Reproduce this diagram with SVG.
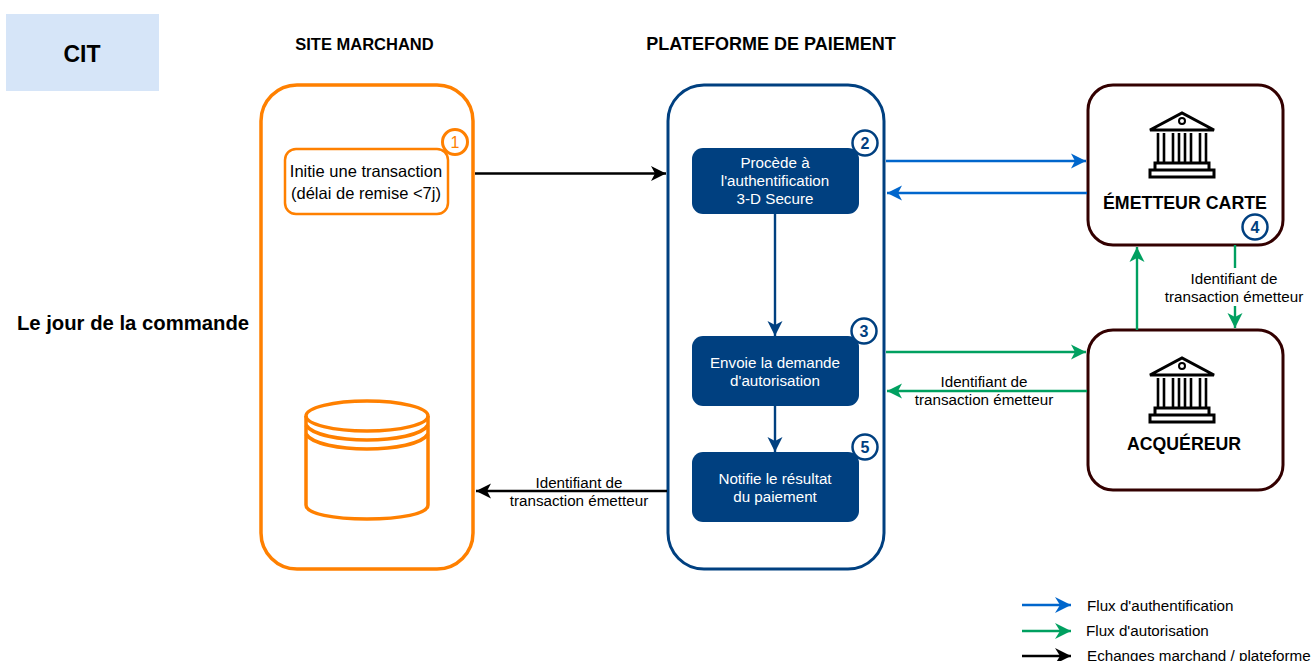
<svg xmlns="http://www.w3.org/2000/svg" xmlns:xlink="http://www.w3.org/1999/xlink" width="1314" height="661" viewBox="0 0 1314 661">
<style>
text{font-family:"Liberation Sans",Arial,sans-serif;font-size:15.200px;fill:#000;text-anchor:middle}
.b{font-weight:bold}
.w{fill:#fff}
.l{text-anchor:start;font-size:15.200px}
.oc{fill:#fff;stroke:#ff8000;stroke-width:3}
.nc{fill:#fff;stroke:#004080;stroke-width:2.5}
.num{font-size:16px;font-weight:bold;fill:#004080}
.box{fill:#004080}
.plat{fill:#fff;stroke:#004080;stroke-width:3}
.bank{fill:#fff;stroke:#330000;stroke-width:3}
.ar{fill:none;stroke-width:2.4}
.blue{stroke:#0066cc}.green{stroke:#00a060}.black{stroke:#000}.navy{stroke:#004080}
.ico{fill:none;stroke:#000;stroke-width:3}
.cyl{fill:none;stroke:#ff8000;stroke-width:3.5}
</style>
<defs>
<path id="h" d="M-14,-7.500 L1,0 L-14,7.500 L-10,0 Z"/>
<path id="hl" d="M-15,-8 L1,0 L-15,8 L-10,0 Z"/>
<marker id="mb" markerUnits="userSpaceOnUse" markerWidth="18" markerHeight="18" refX="1" refY="0" viewBox="-16 -9 18 18" orient="auto"><use xlink:href="#h" fill="#0066cc"/></marker>
<marker id="mg" markerUnits="userSpaceOnUse" markerWidth="18" markerHeight="18" refX="1" refY="0" viewBox="-16 -9 18 18" orient="auto"><use xlink:href="#h" fill="#00a060"/></marker>
<marker id="mk" markerUnits="userSpaceOnUse" markerWidth="18" markerHeight="18" refX="1" refY="0" viewBox="-16 -9 18 18" orient="auto"><use xlink:href="#h" fill="#000"/></marker>
<marker id="mn" markerUnits="userSpaceOnUse" markerWidth="18" markerHeight="18" refX="1" refY="0" viewBox="-16 -9 18 18" orient="auto"><use xlink:href="#h" fill="#004080"/></marker>
<marker id="lb" markerUnits="userSpaceOnUse" markerWidth="18" markerHeight="18" refX="1" refY="0" viewBox="-16 -9 18 18" orient="auto"><use xlink:href="#hl" fill="#0066cc"/></marker>
<marker id="lg" markerUnits="userSpaceOnUse" markerWidth="18" markerHeight="18" refX="1" refY="0" viewBox="-16 -9 18 18" orient="auto"><use xlink:href="#hl" fill="#00a060"/></marker>
<marker id="lk" markerUnits="userSpaceOnUse" markerWidth="18" markerHeight="18" refX="1" refY="0" viewBox="-16 -9 18 18" orient="auto"><use xlink:href="#hl" fill="#000"/></marker>
<g id="bankicon">
<path class="ico" d="M-32,1 L0,-16 L32,1 Z"/>
<circle cx="0" cy="-8" r="3" fill="none" stroke="#000" stroke-width="2"/>
<path fill="none" stroke="#000" stroke-width="2.6" d="M-24,4V33M-18,4V33M-9,4V33M-3,4V33M3,4V33M9,4V33M18,4V33M24,4V33"/>
<path class="ico" d="M-27,34H27V41H-27Z M-32,41H32V48H-32Z"/>
</g>
</defs>
<rect id="cit-bg" x="6" y="14" width="153" height="77" fill="#d6e5f8"/>
<text class="b" x="82" y="62" style="font-size:23px">CIT</text>
<text class="b" x="364.500" y="50" style="font-size:16.500px">SITE MARCHAND</text>
<text class="b" x="771" y="50" style="font-size:18px">PLATEFORME DE PAIEMENT</text>
<text class="b" x="133" y="330" style="font-size:20.300px">Le jour de la commande</text>

<g id="site-marchand">
<rect x="261" y="85" width="212" height="484" rx="36" fill="#fff" stroke="#ff8000" stroke-width="3.500"/>
<g id="db">
<ellipse class="cyl" cx="367" cy="416" rx="61" ry="15"/>
<path class="cyl" d="M306,416V505C306,514 334,519 367,519C400,519 428,514 428,505V416"/>
<path class="cyl" d="M306,425C312,435 340,440 367,440C394,440 422,435 428,425"/>
<path class="cyl" d="M306,434C312,444 340,449 367,449C394,449 422,444 428,434"/>
</g>
</g>
<g id="plateforme">
<rect class="plat" x="668" y="85" width="216" height="484" rx="36"/>
</g>
<g id="n1">
<rect x="285" y="149" width="163" height="65" rx="11" fill="#fff" stroke="#ff8000" stroke-width="2.500"/>
<text x="366" y="177" style="font-size:16.500px">Initie une transaction</text>
<text x="366" y="199" style="font-size:16.500px">(délai de remise &lt;7j)</text>
<circle class="oc" cx="455" cy="142" r="12.500"/>
<text x="455" y="148" style="font-size:16px;fill:#ff8000">1</text>
</g>
<g id="n2">
<rect class="box" x="692" y="148" width="167" height="66" rx="11"/>
<text class="w" x="775" y="168">Procède à</text>
<text class="w" x="775" y="186">l'authentification</text>
<text class="w" x="775" y="204">3-D Secure</text>
<circle class="nc" cx="865" cy="143" r="12.500"/>
<text class="num" x="865" y="148.500">2</text>
</g>
<g id="n3">
<rect class="box" x="692" y="336" width="167" height="70" rx="11"/>
<text class="w" x="775" y="368">Envoie la demande</text>
<text class="w" x="775" y="386">d'autorisation</text>
<circle class="nc" cx="864" cy="331" r="12.500"/>
<text class="num" x="864" y="336.500">3</text>
</g>
<g id="n5">
<rect class="box" x="692" y="452" width="167" height="70" rx="11"/>
<text class="w" x="775" y="484">Notifie le résultat</text>
<text class="w" x="775" y="502">du paiement</text>
<circle class="nc" cx="865" cy="447" r="12.500"/>
<text class="num" x="865" y="452.500">5</text>
</g>
<g id="emetteur">
<rect class="bank" x="1088" y="85" width="195" height="160" rx="25"/>
<use xlink:href="#bankicon" x="1182" y="129"/>
<text class="b" x="1185" y="209" style="font-size:17.800px">ÉMETTEUR CARTE</text>
<circle class="nc" cx="1255" cy="227" r="12.500"/>
<text class="num" x="1255" y="232.500">4</text>
</g>
<g id="acquereur">
<rect class="bank" x="1088" y="330" width="195" height="160" rx="25"/>
<use xlink:href="#bankicon" x="1182" y="374"/>
<text class="b" x="1184" y="450" style="font-size:17.700px">ACQUÉREUR</text>
</g>
<g id="connectors">
<path class="ar black" d="M475,173.500H666" marker-end="url(#mk)"/>
<path class="ar blue" d="M886,161H1086" marker-end="url(#mb)"/>
<path class="ar blue" d="M1087,193H887" marker-end="url(#mb)"/>
<path class="ar navy" d="M775,214V336" marker-end="url(#mn)"/>
<path class="ar navy" d="M775,406V452" marker-end="url(#mn)"/>
<path class="ar green" d="M886,352H1086" marker-end="url(#mg)"/>
<path class="ar green" d="M1087,391H887" marker-end="url(#mg)"/>
<path class="ar green" d="M1137,330V247" marker-end="url(#mg)"/>
<path class="ar green" d="M1235,245V328" marker-end="url(#mg)"/>
<path class="ar black" d="M667,491H476" marker-end="url(#mk)"/>
</g>
<rect x="1160" y="268" width="146" height="38" fill="#fff"/>
<text x="1234" y="284">Identifiant de</text>
<text x="1234" y="302">transaction émetteur</text>
<text x="984" y="387">Identifiant de</text>
<text x="984" y="405">transaction émetteur</text>
<text x="579" y="488">Identifiant de</text>
<text x="579" y="506">transaction émetteur</text>
<g id="legend">
<path class="ar blue" d="M1022,605H1071" marker-end="url(#lb)"/>
<path class="ar green" d="M1022,631H1071" marker-end="url(#lg)"/>
<path class="ar black" d="M1022,656H1071" marker-end="url(#lk)"/>
<text class="l" x="1087" y="611">Flux d'authentification</text>
<text class="l" x="1086" y="636">Flux d'autorisation</text>
<text class="l" x="1087" y="661">Echanges marchand / plateforme</text>
</g>
</svg>
